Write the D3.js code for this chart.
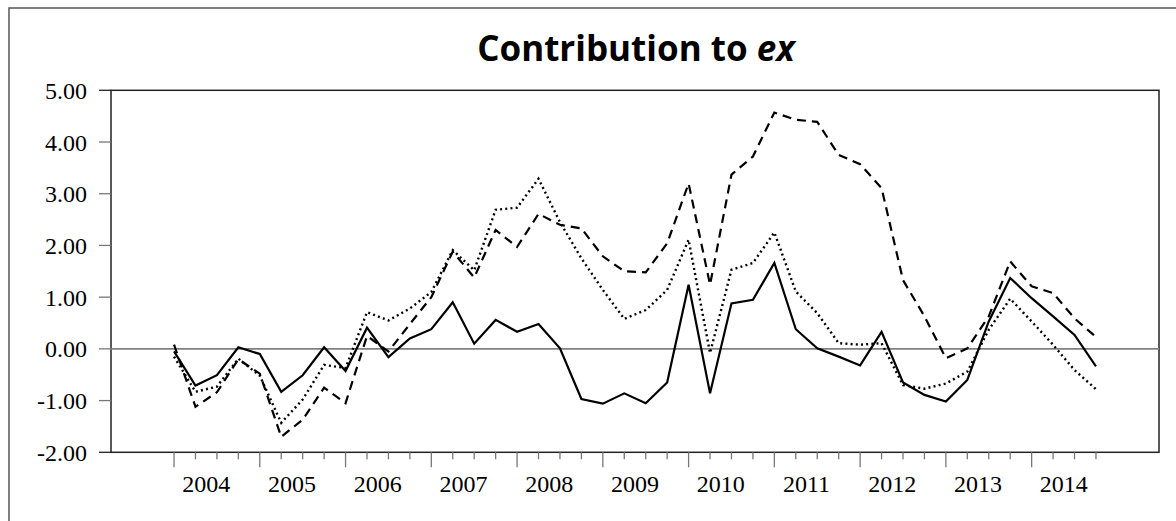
<!DOCTYPE html>
<html>
<head>
<meta charset="utf-8">
<script src="https://cdn.jsdelivr.net/npm/d3@7/dist/d3.min.js"></script>
<style>
  html, body { margin: 0; padding: 0; background: #fff; }
  svg { display: block; }
</style>
</head>
<body>
<svg id="chart" width="1176" height="521"></svg>
<script>
// Quarterly observations, 2004Q1 - 2014Q4
const years = [2004, 2005, 2006, 2007, 2008, 2009, 2010, 2011, 2012, 2013, 2014];
const quarters = d3.range(44);

const seriesSolid = [-0.05, -0.71, -0.51, 0.03, -0.10, -0.83, -0.51, 0.03, -0.43, 0.41,
  -0.16, 0.20, 0.38, 0.90, 0.10, 0.56, 0.33, 0.48, 0.01, -0.97,
  -1.06, -0.86, -1.05, -0.65, 1.24, -0.86, 0.88, 0.95, 1.66, 0.38,
  0.01, -0.15, -0.32, 0.33, -0.65, -0.89, -1.02, -0.60, 0.53, 1.37,
  0.98, 0.63, 0.27, -0.34];

const seriesDotted = [-0.15, -0.83, -0.73, -0.19, -0.52, -1.43, -0.98, -0.31, -0.37, 0.71,
  0.55, 0.78, 1.10, 1.91, 1.52, 2.69, 2.73, 3.29, 2.45, 1.75,
  1.14, 0.58, 0.75, 1.14, 2.11, -0.08, 1.53, 1.66, 2.25, 1.11,
  0.69, 0.11, 0.08, 0.11, -0.70, -0.77, -0.67, -0.44, 0.37, 0.97,
  0.53, 0.08, -0.41, -0.78];

const seriesDashed = [0.08, -1.12, -0.84, -0.20, -0.48, -1.70, -1.37, -0.75, -1.05, 0.25,
  -0.05, 0.48, 1.00, 1.88, 1.38, 2.30, 1.97, 2.61, 2.40, 2.33,
  1.79, 1.50, 1.48, 2.04, 3.20, 1.24, 3.37, 3.72, 4.57, 4.43,
  4.39, 3.75, 3.57, 3.11, 1.33, 0.63, -0.18, 0.01, 0.63, 1.69,
  1.21, 1.08, 0.59, 0.23];

const yTicks = [5, 4, 3, 2, 1, 0, -1, -2];

const svg = d3.select("#chart");

const plot = { left: 111, right: 1159, top: 90.3, bottom: 452.3 };

const x = d3.scaleLinear().domain([-2.94, 45.94]).range([plot.left, plot.right]);
const y = d3.scaleLinear().domain([-2, 5]).range([plot.bottom, plot.top]);

// outer frame
svg.append("rect")
  .attr("x", 9).attr("y", 8).attr("width", 1200).attr("height", 540)
  .attr("fill", "none").attr("stroke", "#555").attr("stroke-width", 1.5);

// title
const title = svg.append("text")
  .attr("x", 636).attr("y", 61)
  .attr("text-anchor", "middle")
  .attr("font-family", "'Open Sans', Lato, sans-serif")
  .attr("font-weight", "bold")
  .attr("font-size", 35)
  .attr("fill", "#000");
title.append("tspan").text("Contribution to ");
title.append("tspan").attr("font-style", "italic").text("ex");

// plot box
svg.append("rect")
  .attr("x", plot.left).attr("y", plot.top)
  .attr("width", plot.right - plot.left).attr("height", plot.bottom - plot.top)
  .attr("fill", "none").attr("stroke", "#222").attr("stroke-width", 1.5);

// y ticks and labels (plain hyphen for negatives)
const fmt = v => d3.format(".2f")(v).replace("\u2212", "-");
const yAxis = svg.append("g");
yAxis.selectAll("line").data(yTicks).join("line")
  .attr("x1", plot.left - 12).attr("x2", plot.left)
  .attr("y1", d => y(d)).attr("y2", d => y(d))
  .attr("stroke", d => d === 5 || d === -2 ? "#222" : "#777")
  .attr("stroke-width", 1.3);
yAxis.selectAll("text").data(yTicks).join("text")
  .attr("x", 87).attr("y", d => y(d) + 8.5)
  .attr("text-anchor", "end")
  .attr("font-family", "'Liberation Serif', 'Times New Roman', serif")
  .attr("font-size", 24)
  .attr("fill", "#000")
  .text(fmt);

// zero reference line
svg.append("line")
  .attr("x1", plot.left).attr("x2", plot.right)
  .attr("y1", y(0)).attr("y2", y(0))
  .attr("stroke", "#808080").attr("stroke-width", 1.6);

// x ticks: long at the first quarter of each year, short otherwise
const xAxis = svg.append("g");
xAxis.selectAll("line").data(quarters).join("line")
  .attr("x1", d => x(d)).attr("x2", d => x(d))
  .attr("y1", plot.bottom)
  .attr("y2", d => plot.bottom + (d % 4 === 0 ? 15 : 7))
  .attr("stroke", "#777").attr("stroke-width", 1.3);
xAxis.selectAll("text").data(years).join("text")
  .attr("x", (d, i) => x(i * 4 + 1.5))
  .attr("y", 492)
  .attr("text-anchor", "middle")
  .attr("font-family", "'Liberation Serif', 'Times New Roman', serif")
  .attr("font-size", 24)
  .attr("fill", "#000")
  .text(d => d);

// series
const line = d3.line().x((d, i) => x(i)).y(d => y(d));

const series = [
  { values: seriesDashed, dash: "9,6", width: 2.2 },
  { values: seriesDotted, dash: "2,3.2", width: 2.4 },
  { values: seriesSolid, dash: null, width: 2.2 }
];

svg.append("g").selectAll("path").data(series).join("path")
  .attr("d", d => line(d.values))
  .attr("fill", "none")
  .attr("stroke", "#000")
  .attr("stroke-width", d => d.width)
  .attr("stroke-dasharray", d => d.dash)
  .attr("stroke-linejoin", "miter");
</script>
</body>
</html>
